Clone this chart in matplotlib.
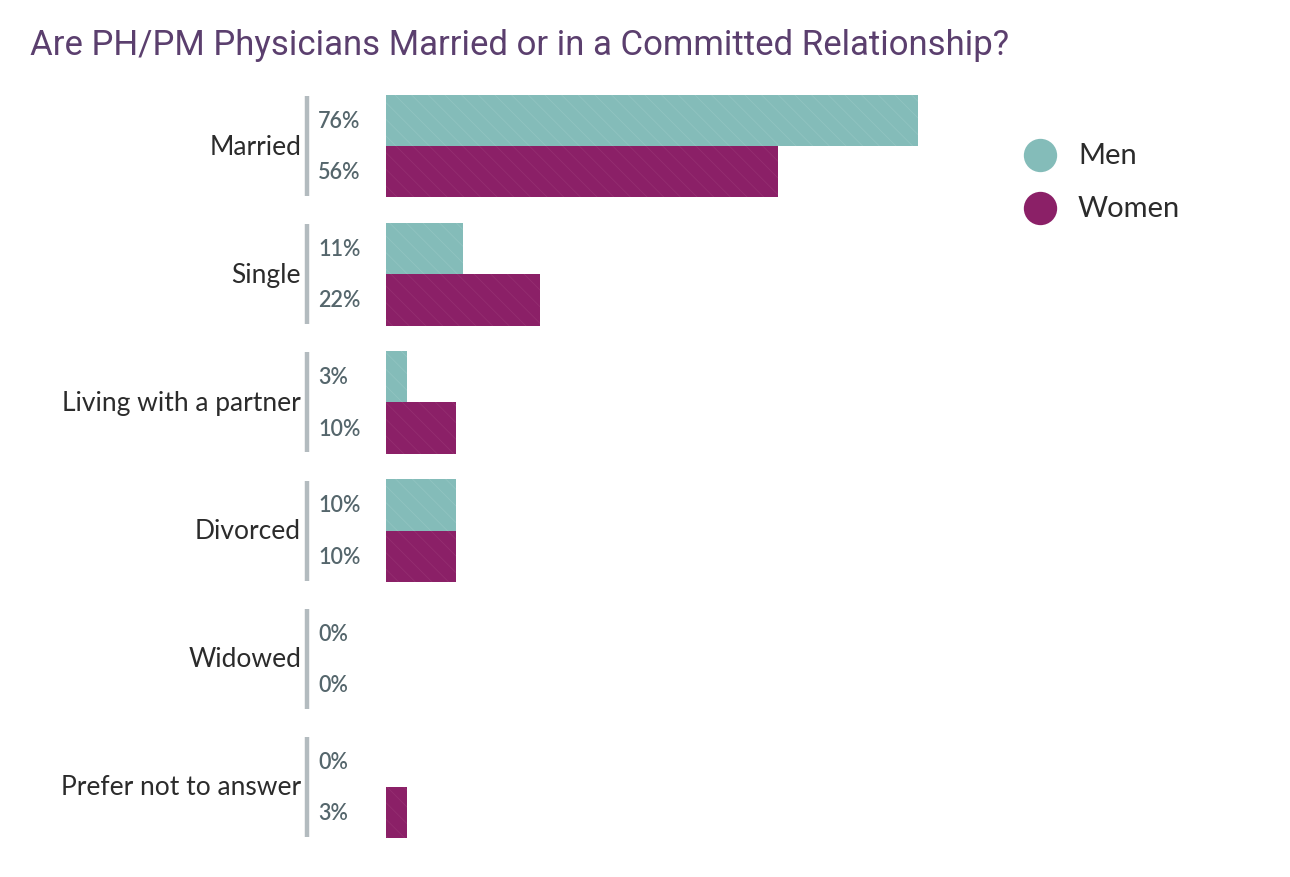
import matplotlib
matplotlib.use('Agg')
import matplotlib.pyplot as plt
import numpy as np

categories = ['Married', 'Single', 'Living with a partner', 'Divorced', 'Widowed', 'Prefer not to answer']
men = [76, 11, 3, 10, 0, 0]
women = [56, 22, 10, 10, 0, 3]
series_names = ['Men', 'Women']

men_color = '#84bcb9'
women_color = '#8b2067'
label_color = '#2b2b2b'
pct_color = '#55666c'
title_color = '#5b3f6e'

plt.rcParams['hatch.linewidth'] = 0.5

W, H = 1290, 878
fig = plt.figure(figsize=(W / 100, H / 100), dpi=100)
fig.patch.set_facecolor('white')

# axes placed where the bars live: x=386px is 0%, ~7px per percent
px_per_pct = 7.0
left = 386 / W
width = 100 * px_per_pct / W
bottom = (H - 839) / H
height = (839 - 96) / H
ax = fig.add_axes([left, bottom, width, height])
ax.set_xlim(0, 100)
ax.set_ylim(5.4, -0.4)
ax.axis('off')

y = np.arange(len(categories))
bh = 0.4
ax.barh(y - bh / 2, men, height=bh, color=men_color, edgecolor='#93c5c2',
        hatch='\\\\', linewidth=0)
ax.barh(y + bh / 2, women, height=bh, color=women_color, edgecolor='#963072',
        hatch='\\\\', linewidth=0)

def px_to_pct(px):
    return (px - 386) / px_per_pct

for i, cat in enumerate(categories):
    ax.text(px_to_pct(301), i, cat, ha='right', va='center', fontsize=19,
            color=label_color, family=['Lato', 'DejaVu Sans'], clip_on=False)
    ax.plot([px_to_pct(307)] * 2, [i - 0.39, i + 0.39], color='#b3bbbf',
            lw=3.2, solid_capstyle='butt', clip_on=False)
    ax.text(px_to_pct(318), i - bh / 2, f'{men[i]}%', ha='left', va='center',
            fontsize=15.5, color=pct_color, weight='semibold',
            family=['Lato', 'DejaVu Sans'], clip_on=False)
    ax.text(px_to_pct(318), i + bh / 2, f'{women[i]}%', ha='left', va='center',
            fontsize=15.5, color=pct_color, weight='semibold',
            family=['Lato', 'DejaVu Sans'], clip_on=False)

# title
fig.text(30 / W, 1 - 45 / H, 'Are PH/PM Physicians Married or in a Committed Relationship?',
         ha='left', va='center', fontsize=25, color=title_color,
         family=['Roboto', 'DejaVu Sans'])

# legend
for name, col, ly in zip(series_names, [men_color, women_color], [156, 209]):
    ax.plot([1040 / W], [1 - ly / H], 'o', ms=24, color=col, mec='none',
            transform=fig.transFigure, clip_on=False)
    fig.text(1078 / W, 1 - ly / H, name, ha='left', va='center', fontsize=21,
             color=label_color, family=['Lato', 'DejaVu Sans'])

fig.savefig('out.png', dpi=100, facecolor='white')
